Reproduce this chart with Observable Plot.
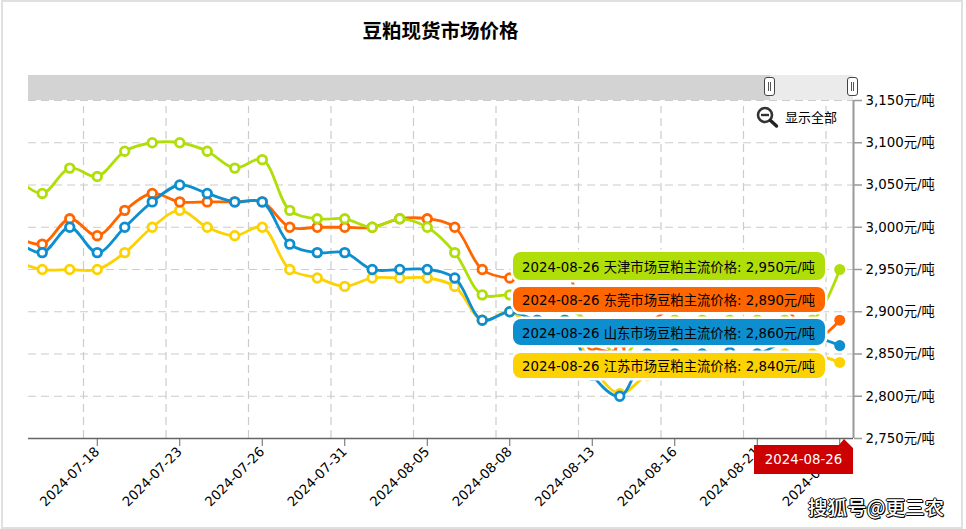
<!DOCTYPE html>
<html lang="zh"><head><meta charset="utf-8">
<script src="https://cdn.jsdelivr.net/npm/d3@7"></script>
<script src="https://cdn.jsdelivr.net/npm/@observablehq/plot@0.6"></script>
<style>
html,body{margin:0;padding:0;background:#fff;width:966px;height:529px;overflow:hidden}
body{position:relative;font-family:"DejaVu Sans","Noto Sans CJK SC",sans-serif;font-size:13.33px;color:#000}
#frame{position:absolute;left:1px;top:0;width:958px;height:525px;border:2px solid #e0e0e0;box-sizing:content-box}
#chart{position:absolute;left:0;top:0}
#chart svg{display:block;overflow:visible}
#title{position:absolute;left:0;width:881px;top:17px;text-align:center;font:bold 19.5px "Noto Sans CJK SC",sans-serif;color:#000;line-height:26px}
.ov{position:absolute}
.band{top:75px;height:25px}
.handle{top:77px;width:9px;height:17px;background:#fff;border:1.5px solid #444;border-radius:3px}
.handle:after{content:"";position:absolute;left:2.5px;top:4px;width:1px;height:9px;border-left:1.5px solid #555;border-right:1.5px solid #555}
.tip{left:513px;width:312px;border-radius:8px;box-sizing:border-box;padding-left:9px;white-space:nowrap;display:flex;align-items:center;box-shadow:0 0 0 2.5px #fff}
#flag{left:754px;top:439px;width:99px;height:35px;background:#cc0000;color:#fff;clip-path:polygon(0 6px,85px 6px,90px 0,99px 9px,99px 35px,0 35px);display:flex;align-items:center;justify-content:center;padding-top:6px;box-sizing:border-box}
#mark{left:808px;top:495px;font:500 19.5px "Noto Sans CJK SC",sans-serif;color:#fff;line-height:24px;text-shadow:1px 1px 0 #000,-1px 0 0 #000,0 -1px 0 #000,1px 0 0 #000,0 1px 0 #000;white-space:nowrap}
</style></head><body>
<div id="frame"></div>
<div id="chart"></div>
<div id="title"></div>
<script>
const chartTitle = "豆粕现货市场价格";
const dates = ["2024-07-15","2024-07-16","2024-07-17","2024-07-18","2024-07-19","2024-07-22","2024-07-23","2024-07-24","2024-07-25","2024-07-26","2024-07-29","2024-07-30","2024-07-31","2024-08-01","2024-08-02","2024-08-05","2024-08-06","2024-08-07","2024-08-08","2024-08-09","2024-08-12","2024-08-13","2024-08-14","2024-08-15","2024-08-16","2024-08-19","2024-08-20","2024-08-21","2024-08-22","2024-08-23","2024-08-26"];
const tianjin  = [3060,3040,3070,3060,3090,3100,3100,3090,3070,3080,3020,3010,3010,3000,3010,3000,2970,2920,2920,2915,2905,2885,2845,2880,2890,2890,2890,2890,2890,2890,2950];
const dongguan = [2990,2980,3010,2990,3020,3040,3030,3030,3030,3030,3000,3000,3000,3000,3010,3010,3000,2950,2940,2945,2950,2860,2855,2885,2905,2905,2905,2905,2905,2866,2890];
const shandong = [2985,2970,3000,2970,3000,3030,3050,3040,3030,3030,2980,2970,2970,2950,2950,2950,2940,2890,2900,2890,2890,2825,2800,2850,2850,2850,2852,2850,2865,2870,2860];
const jiangsu  = [2960,2950,2950,2950,2970,3000,3020,3000,2990,3000,2950,2940,2930,2940,2940,2940,2930,2890,2900,2880,2890,2835,2803,2825,2835,2840,2845,2845,2850,2850,2840];
const seriesNames = ["天津","东莞","山东","江苏"];
const seriesValues = [tianjin,dongguan,shandong,jiangsu];
const seriesColors = ["#b0de09","#ff6600","#0d8ecf","#fcd202"];
const drawOrder = [3,1,2,0];
const yTicks = [2750,2800,2850,2900,2950,3000,3050,3100,3150];
const xTickDates = ["2024-07-18","2024-07-23","2024-07-26","2024-07-31","2024-08-05","2024-08-08","2024-08-13","2024-08-16","2024-08-21","2024-08-26"];
const zoomLabel = "显示全部";
const watermark = "搜狐号@更三农";
const tipTops = [252,287,319,353], tipHeights = [28,25,26,25];

document.getElementById("title").textContent = chartTitle;
const last = dates.length - 1;
const xIdx = xTickDates.map(d => dates.indexOf(d));
const dash = {stroke:"#cccccc", strokeWidth:1.2, strokeDasharray:"8,5"};
const fontF = '"DejaVu Sans","Noto Sans CJK SC",sans-serif';

const marks = [
  Plot.ruleY(yTicks, {y:d=>d, ...dash}),
  Plot.ruleX(xIdx, {x:d=>d-0.5, y1:2750, y2:3143, ...dash}),
  Plot.ruleY([2750], {stroke:"#666", strokeWidth:1.5}),
  Plot.ruleX([30.5], {stroke:"#999", strokeWidth:2}),
];
for (const s of drawOrder) {
  const rows = dates.map((d,i)=>({i, v:seriesValues[s][i]}));
  marks.push(
    Plot.line(rows, {x:"i", y:"v", stroke:seriesColors[s], strokeWidth:2.8, curve:"catmull-rom", clip:"frame"}),
    Plot.dot(rows.slice(1,last), {x:"i", y:"v", r:4.3, fill:"#fff", stroke:seriesColors[s], strokeWidth:2.8, clip:"frame"}),
    Plot.dot(rows.slice(last), {x:"i", y:"v", r:5.5, fill:seriesColors[s], stroke:"none"})
  );
}
marks.push(
  Plot.axisY(yTicks, {anchor:"right", tickSize:8, tickPadding:4, tickFormat:d=>d3.format(",")(d)+"元/吨", label:null, fontSize:13.33, fontFamily:fontF, stroke:"#999", fill:"#000", strokeWidth:1.5}),
  Plot.axisX(xIdx, {anchor:"bottom", tickSize:8, tickPadding:3, tickRotate:-45, tickFormat:i=>dates[i], label:null, fontSize:13.33, fontFamily:fontF, stroke:"#666", fill:"#000"})
);
const plot = Plot.plot({
  width:966, height:529,
  marginLeft:28, marginRight:113, marginTop:100, marginBottom:91,
  style:{background:"transparent", fontFamily:fontF, fontSize:"13.33px", color:"#000"},
  x:{type:"linear", domain:[0.5,30.5]},
  y:{type:"linear", domain:[2750,3150]},
  marks
});
document.getElementById("chart").appendChild(plot);

function ov(cls, css, text){
  const e=document.createElement("div"); e.className="ov "+cls; e.style.cssText=css;
  if(text) e.textContent=text; document.body.appendChild(e); return e;
}
ov("band","left:28px;width:742px;background:#d3d3d3");
ov("band","left:770px;width:83px;background:#ebebeb");
ov("handle","left:764px");
ov("handle","left:847px");
ov("","left:785px;top:108px;font-size:13px;font-family:'Noto Sans CJK SC',sans-serif;line-height:18px",zoomLabel);
const icon=ov("","left:755px;top:105px;width:24px;height:24px");
icon.innerHTML='<svg width="24" height="24"><circle cx="10" cy="10" r="7" fill="#fff" stroke="#333" stroke-width="2.6"/><path d="M6 10h8" stroke="#333" stroke-width="2.4"/><path d="M15.5 15.5l6 5.5" stroke="#222" stroke-width="3.4" stroke-linecap="round"/></svg>';
seriesNames.forEach((n,s)=>{
  ov("tip",`top:${tipTops[s]}px;height:${tipHeights[s]}px;background:${seriesColors[s]}`,
    `${dates[last]} ${n}市场豆粕主流价格: ${d3.format(",")(seriesValues[s][last])}元/吨`);
});
const flag=ov("","",dates[last]); flag.id="flag";
const wm=ov("","",watermark); wm.id="mark";
</script>
</body></html>
